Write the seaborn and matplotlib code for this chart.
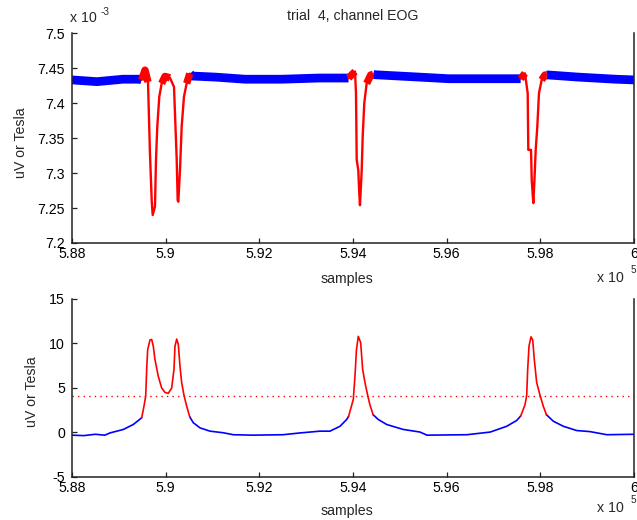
import numpy as np
import pandas as pd
import matplotlib
matplotlib.use("Agg")
import matplotlib.pyplot as plt
import seaborn as sns

# samples (x axis is samples, shown as x10^5)
top_samples = [588000, 588534, 588769, 589089, 589443,
               589488, 589559, 589623, 589665, 589702, 589723, 589772, 589794, 589821, 589864,
               589915, 589986, 590092, 590178, 590199, 590236, 590257, 590270, 590306, 590342,
               590391, 590449, 590515,
               590552, 591066, 591694, 592484, 593274,
               593905, 594043, 594064, 594079, 594113, 594134, 594149, 594186, 594207, 594241,
               594292, 594378, 594430,
               594465, 595257, 596047,
               597580, 597672, 597730, 597743, 597801, 597816, 597850, 597871, 597901, 597935,
               597971, 598029, 598099, 598130,
               598183, 598815, 599607, 600000]
# EOG trace, in units of 1e-3 (as on the y axis)
top_values = [7.433, 7.4305, 7.432, 7.434, 7.434,
              7.433, 7.447, 7.430, 7.328, 7.261, 7.240, 7.252, 7.319, 7.366, 7.409,
              7.428, 7.438, 7.436, 7.423, 7.386, 7.319, 7.261, 7.259, 7.304, 7.366,
              7.409, 7.428, 7.442,
              7.4386, 7.437, 7.434, 7.434, 7.4357,
              7.4357, 7.445, 7.414, 7.319, 7.304, 7.271, 7.254, 7.304, 7.352, 7.400,
              7.428, 7.440, 7.441,
              7.4404, 7.4376, 7.4347,
              7.4347, 7.4424, 7.414, 7.333, 7.333, 7.290, 7.257, 7.285, 7.333, 7.366,
              7.414, 7.433, 7.440, 7.440,
              7.440, 7.437, 7.434, 7.433]

bottom_samples = [588000, 588250, 588500, 588700, 588811, 589095, 589309,
                  589488, 589537, 589574, 589595, 589616, 589665, 589702, 589736, 589772,
                  589843, 589915, 589986, 590056, 590129, 590178, 590199, 590236, 590270,
                  590306, 590342, 590391, 590449, 590515,
                  590590, 590733, 590947, 591231, 591444, 591865, 592505, 592868, 593295,
                  593509, 593722, 593865,
                  593905, 594006, 594042, 594074, 594113, 594164, 594206, 594256, 594313,
                  594362, 594430,
                  594540, 594719, 595067, 595430, 595580, 596434, 596931, 597282, 597495,
                  597580, 597672, 597709, 597730, 597758, 597801, 597837, 597871, 597922,
                  597993, 598063, 598130,
                  598277, 598490, 598776, 599060, 599423, 600000]
# z-value trace
bottom_values = [-0.3, -0.35, -0.2, -0.3, -0.05, 0.34, 0.9,
                 1.65, 2.95, 4.1, 7.1, 9.3, 10.4, 10.45, 9.7, 8.2,
                 6.3, 5.0, 4.5, 4.4, 5.0, 7.1, 9.7, 10.5, 9.9,
                 7.45, 5.6, 4.2, 2.95, 1.75,
                 1.1, 0.52, 0.15, -0.03, -0.25, -0.3, -0.25, -0.05, 0.15,
                 0.15, 0.7, 1.46,
                 1.8, 3.7, 6.3, 9.3, 10.8, 10.1, 7.1, 5.6, 4.2,
                 3.1, 2.0,
                 1.46, 0.9, 0.35, 0.05, -0.3, -0.25, 0.05, 0.7, 1.35,
                 1.85, 3.1, 4.2, 7.1, 9.7, 10.75, 10.4, 8.2, 5.6,
                 4.2, 2.95, 2.0,
                 1.27, 0.7, 0.22, 0.1, -0.25, -0.2]

artifact_start = [589488, 593905, 597580]
artifact_end = [590515, 594430, 598130]
threshold = 4.1

x_ticks = [588000, 590000, 592000, 594000, 596000, 598000, 600000]
x_ticklabels = ["5.88", "5.9", "5.92", "5.94", "5.96", "5.98", "6"]
top_yticks = [7.2, 7.25, 7.3, 7.35, 7.4, 7.45, 7.5]
top_yticklabels = ["7.2", "7.25", "7.3", "7.35", "7.4", "7.45", "7.5"]
bottom_yticks = [-5, 0, 5, 10, 15]

sns.set_style("white")
plt.rcParams["font.family"] = ["Liberation Sans", "DejaVu Sans"]
plt.rcParams["mathtext.fontset"] = "custom"
plt.rcParams["mathtext.rm"] = "Liberation Sans"
plt.rcParams["axes.unicode_minus"] = False
FS = 10.2
BAND = 6.3  # width of the noisy band in the raw trace

top = pd.DataFrame({"sample": top_samples, "value": top_values})
bot = pd.DataFrame({"sample": bottom_samples, "value": bottom_values})

# clean stretches between the artifacts
clean_start = [588000] + artifact_end
clean_end = artifact_start + [600000]


def style_axis(ax):
    for side in ["left", "bottom", "right"]:
        ax.spines[side].set_visible(True)
        ax.spines[side].set_color("#222222")
        ax.spines[side].set_linewidth(1.1)
    ax.spines["top"].set_visible(False)
    ax.tick_params(direction="in", length=3.6, width=0.9, colors="#222222",
                   labelcolor="black", labelsize=FS, pad=3,
                   bottom=True, left=True, top=False, right=False)
    ax.tick_params(axis="y", pad=5)
    ax.set_xlim(588000, 600000)
    ax.set_xticks(x_ticks)
    ax.set_xticklabels(x_ticklabels)
    ax.set_xlabel("samples", fontsize=FS)
    ax.set_ylabel("uV or Tesla", fontsize=FS)


def runs(mask):
    # contiguous True runs as (i0, i1)
    out, start = [], None
    for i, m in enumerate(mask):
        if m and start is None:
            start = i
        if not m and start is not None:
            out.append((start, i - 1))
            start = None
    if start is not None:
        out.append((start, len(mask) - 1))
    return out


def piece(df, s, e):
    return df[(df["sample"] >= s) & (df["sample"] <= e)].reset_index(drop=True)


fig = plt.figure(figsize=(6.37, 5.2), dpi=100)
ax1 = fig.add_axes([0.1130, 0.5327, 0.8823, 0.4038])
ax2 = fig.add_axes([0.1130, 0.0827, 0.8823, 0.3423])

# top: raw EOG, the noisy band drawn as a thick line
for s, e in zip(clean_start, clean_end):
    sns.lineplot(data=piece(top, s, e), x="sample", y="value", ax=ax1, color="#0000ff",
                 lw=BAND, estimator=None, sort=False, solid_capstyle="butt")
for s, e in zip(artifact_start, artifact_end):
    seg = piece(top, s, e)
    sns.lineplot(data=seg, x="sample", y="value", ax=ax1, color="#ff0000", lw=1.7,
                 estimator=None, sort=False)
    for i0, i1 in runs(list(seg["value"] >= 7.425)):
        if i1 > i0:
            sns.lineplot(data=seg.iloc[i0:i1 + 1], x="sample", y="value", ax=ax1,
                         color="#ff0000", lw=BAND - 1, estimator=None, sort=False,
                         solid_capstyle="butt")

ax1.set_ylim(7.2, 7.5)
ax1.set_yticks(top_yticks)
ax1.set_yticklabels(top_yticklabels)
style_axis(ax1)
ax1.text(0.5, 1.081, "trial  4, channel EOG", transform=ax1.transAxes,
         ha="center", va="center", fontsize=FS)
ax1.text(-0.004, 1.071, "x 10", transform=ax1.transAxes, ha="left", va="center", fontsize=FS)
ax1.text(0.050, 1.10, "-3", transform=ax1.transAxes, ha="left", va="center", fontsize=FS - 3)

# bottom: z-values with threshold
for s, e in zip(clean_start, clean_end):
    sns.lineplot(data=piece(bot, s, e), x="sample", y="value", ax=ax2, color="#0000ff",
                 lw=1.2, estimator=None, sort=False)
for s, e in zip(artifact_start, artifact_end):
    sns.lineplot(data=piece(bot, s, e), x="sample", y="value", ax=ax2, color="#ff0000",
                 lw=1.2, estimator=None, sort=False)
ax2.axhline(threshold, color="#ff0000", lw=1.0, ls=(0, (1, 3)))
ax2.set_ylim(-5, 15)
ax2.set_yticks(bottom_yticks)
style_axis(ax2)

for ax, ylab_x, xlab_y, x10_y, h in [(ax1, -0.079, -0.138, -0.167, 210),
                                    (ax2, -0.0587, -0.152, -0.174, 178)]:
    ax.yaxis.set_label_coords(ylab_x, 0.48)
    ax.xaxis.set_label_coords(0.489, xlab_y)
    ax.text(0.934, x10_y, "x 10", transform=ax.transAxes, ha="left", va="center", fontsize=FS)
    ax.text(0.9947, x10_y + 8.0 / h, "5", transform=ax.transAxes, ha="left", va="center",
            fontsize=FS - 3)

fig.savefig("out.png", dpi=100)
